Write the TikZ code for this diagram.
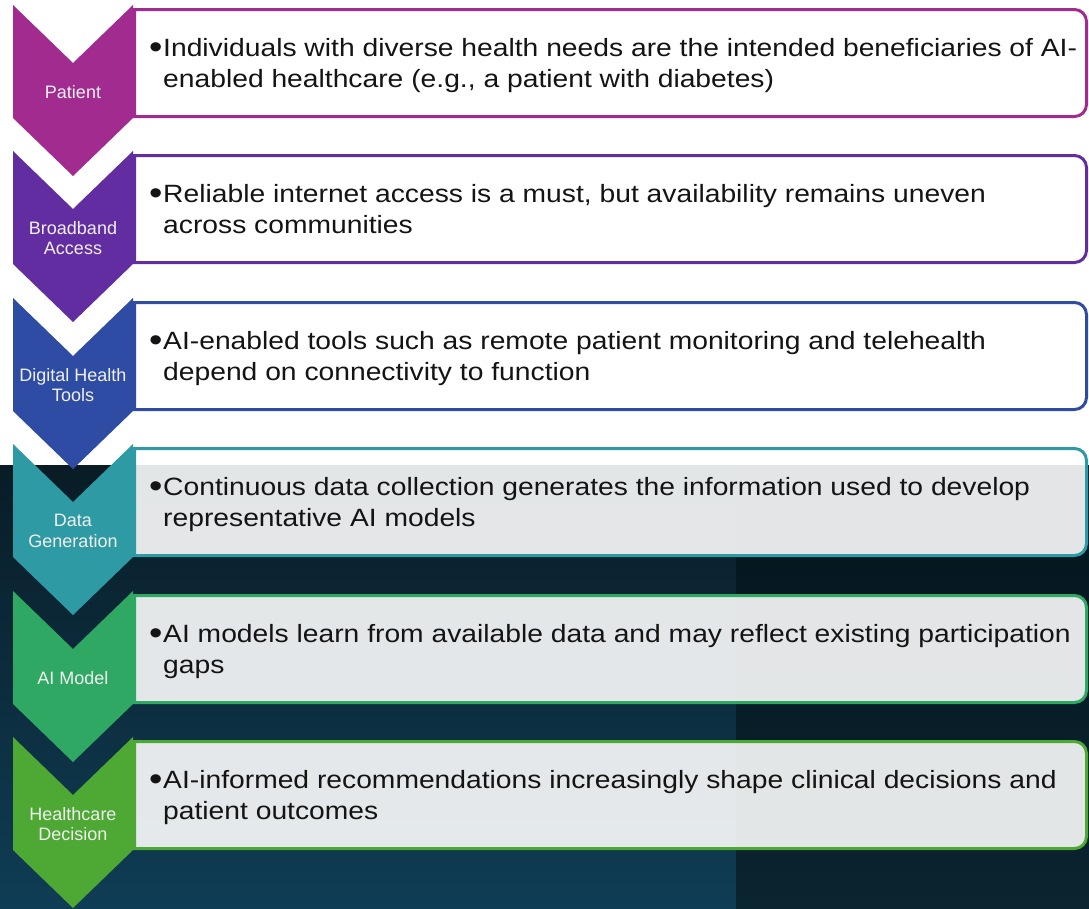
\documentclass[tikz,border=0pt]{standalone}
\usepackage{fontspec}
\setmainfont{Liberation Sans}
\newfontfamily\bodyfont[FakeStretch=1.13]{Liberation Sans}
\usetikzlibrary{positioning}
\newcommand{\dotmark}{\makebox[14pt][l]{\raisebox{-2.5pt}{\scalebox{1.35}{•}}}}
\definecolor{ptcol}{HTML}{A12B8F}
\definecolor{bbcol}{HTML}{622DA0}
\definecolor{dhcol}{HTML}{2E4CA3}
\definecolor{dgcol}{HTML}{2E9AA3}
\definecolor{amcol}{HTML}{2EA862}
\definecolor{hdcol}{HTML}{4DA834}
\definecolor{navytop}{HTML}{091C26}
\definecolor{navybot}{HTML}{0F3D55}
\definecolor{inktop}{HTML}{04141C}
\definecolor{inkbot}{HTML}{0A2430}
\tikzset{
  chev/.style={fill=#1},
  card/.style={draw=#1, line width=3pt, fill=white, fill opacity=0.89},
  tag/.style={text=white!94!black, font=\fontsize{18}{20.5}\selectfont, align=center},
  blurb/.style={anchor=base west, align=left, inner sep=0pt, text=black!92,
    font=\bodyfont\fontsize{25}{31}\selectfont}
}

\begin{document}
\begin{tikzpicture}[x=1pt,y=-1pt]
  \useasboundingbox (0,0) rectangle (1089,908);
  \fill[white] (0,0) rectangle (1089,908);
  % dark backdrop
  \shade[top color=navytop, bottom color=navybot] (0,465) rectangle (736,908);
  \shade[top color=inktop, bottom color=inkbot] (736,465) rectangle (1089,908);

  % chevrons
  \fill[chev=ptcol] (13,5) -- (73,63) -- (133,5) -- (133,118) -- (73,176) -- (13,118) -- cycle;
  \fill[chev=bbcol] (13,151) -- (73,209) -- (133,151) -- (133,264) -- (73,322) -- (13,264) -- cycle;
  \fill[chev=dhcol] (13,298) -- (73,356) -- (133,298) -- (133,411) -- (73,469) -- (13,411) -- cycle;
  \fill[chev=dgcol] (13,444) -- (73,502) -- (133,444) -- (133,557) -- (73,615) -- (13,557) -- cycle;
  \fill[chev=amcol] (13,591) -- (73,649) -- (133,591) -- (133,704) -- (73,762) -- (13,704) -- cycle;
  \fill[chev=hdcol] (13,737) -- (73,795) -- (133,737) -- (133,850) -- (73,908) -- (13,850) -- cycle;

  % cards
  \draw[card=ptcol] (134.5,9.5) [rounded corners=12pt] -- (1086.5,9.5) -- (1086.5,116.5) [sharp corners] -- (134.5,116.5) -- cycle;
  \draw[card=bbcol] (134.5,155.5) [rounded corners=12pt] -- (1086.5,155.5) -- (1086.5,262.5) [sharp corners] -- (134.5,262.5) -- cycle;
  \draw[card=dhcol] (134.5,302.5) [rounded corners=12pt] -- (1086.5,302.5) -- (1086.5,409.5) [sharp corners] -- (134.5,409.5) -- cycle;
  \draw[card=dgcol] (134.5,448.5) [rounded corners=12pt] -- (1086.5,448.5) -- (1086.5,555.5) [sharp corners] -- (134.5,555.5) -- cycle;
  \draw[card=amcol] (134.5,595.5) [rounded corners=12pt] -- (1086.5,595.5) -- (1086.5,702.5) [sharp corners] -- (134.5,702.5) -- cycle;
  \draw[card=hdcol] (134.5,741.5) [rounded corners=12pt] -- (1086.5,741.5) -- (1086.5,848.5) [sharp corners] -- (134.5,848.5) -- cycle;

  % stage names
  \node[tag] (patient) at (73,92) {Patient};
  \node[tag] (broadband) at (73,238) {Broadband\\Access};
  \node[tag] (tools) at (73,385) {Digital Health\\Tools};
  \node[tag] (datagen) at (73,531) {Data\\Generation};
  \node[tag] (aimodel) at (73,678) {AI Model};
  \node[tag] (decision) at (73,824) {Healthcare\\Decision};

  % descriptions (anchored on the second line)
  \node[blurb] (patientnote) at (149,87) {\dotmark Individuals with diverse health needs are the intended beneficiaries of AI-\\\hspace*{14pt}enabled healthcare (e.g., a patient with diabetes)};
  \node[blurb] (broadbandnote) at (149,233) {\dotmark Reliable internet access is a must, but availability remains uneven\\\hspace*{14pt}across communities};
  \node[blurb] (toolsnote) at (149,380) {\dotmark AI-enabled tools such as remote patient monitoring and telehealth\\\hspace*{14pt}depend on connectivity to function};
  \node[blurb] (datagennote) at (149,526) {\dotmark Continuous data collection generates the information used to develop\\\hspace*{14pt}representative AI models};
  \node[blurb] (aimodelnote) at (149,673) {\dotmark AI models learn from available data and may reflect existing participation\\\hspace*{14pt}gaps};
  \node[blurb] (decisionnote) at (149,819) {\dotmark AI-informed recommendations increasingly shape clinical decisions and\\\hspace*{14pt}patient outcomes};
\end{tikzpicture}
\end{document}
